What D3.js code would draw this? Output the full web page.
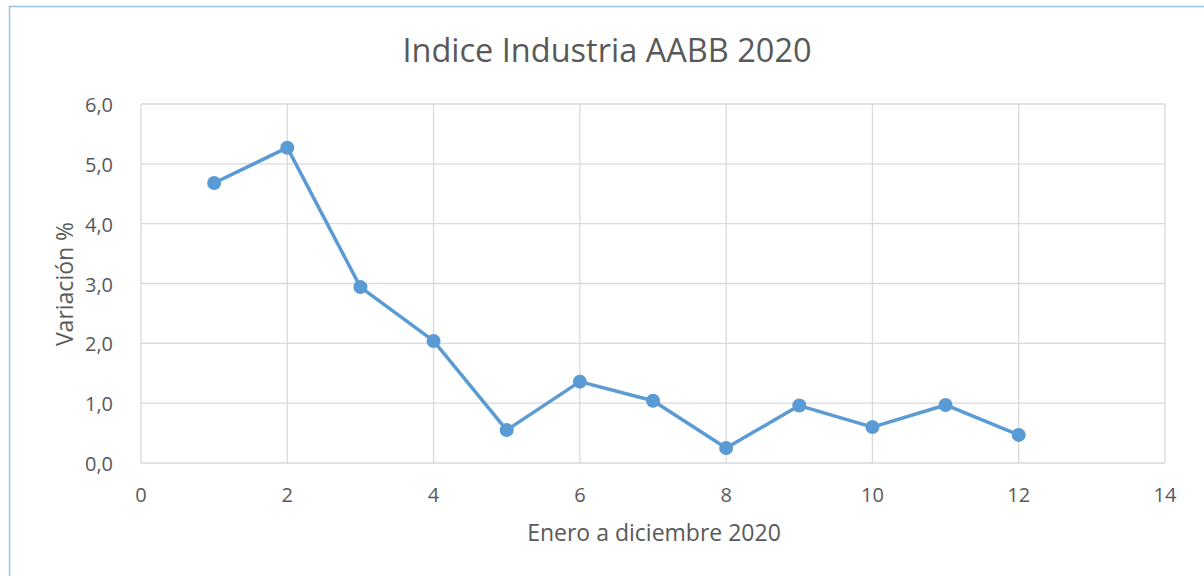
<!DOCTYPE html>
<html>
<head>
<meta charset="utf-8">
<script src="https://cdn.jsdelivr.net/npm/d3@7"></script>
<style>
  body { margin: 0; background: #fff; }
  text { font-family: "Open Sans", "Noto Sans", sans-serif; fill: #595959; }
</style>
</head>
<body>
<div id="chart"></div>
<script>
// Months (1 = enero ... 12 = diciembre) and variation values
const months = [1, 2, 3, 4, 5, 6, 7, 8, 9, 10, 11, 12];
const variacion = [4.68, 5.27, 2.94, 2.04, 0.55, 1.36, 1.04, 0.25, 0.96, 0.60, 0.97, 0.47];
const xTicks = [0, 2, 4, 6, 8, 10, 12, 14];
const yTicks = [0, 1, 2, 3, 4, 5, 6];

const width = 1204, height = 576;
const margin = { left: 141, right: 39, top: 104, bottom: 113 };

const svg = d3.select('#chart').append('svg')
  .attr('width', width)
  .attr('height', height);

// Chart frame
svg.append('rect')
  .attr('x', 9.5).attr('y', 6.5)
  .attr('width', width + 20).attr('height', height + 20)
  .attr('fill', 'none')
  .attr('stroke', '#9dc3e6')
  .attr('stroke-width', 1.5);

const x = d3.scaleLinear().domain([0, 14]).range([margin.left, width - margin.right]);
const y = d3.scaleLinear().domain([0, 6]).range([height - margin.bottom, margin.top]);

const fmt = d => d3.format('.1f')(d).replace('.', ',');

// Gridlines
svg.append('g')
  .selectAll('line')
  .data(xTicks)
  .enter().append('line')
  .attr('x1', d => x(d)).attr('x2', d => x(d))
  .attr('y1', y(0)).attr('y2', y(6))
  .attr('stroke', '#d9d9d9')
  .attr('stroke-width', 1.3);

svg.append('g')
  .selectAll('line')
  .data(yTicks)
  .enter().append('line')
  .attr('x1', x(0)).attr('x2', x(14))
  .attr('y1', d => y(d)).attr('y2', d => y(d))
  .attr('stroke', '#d9d9d9')
  .attr('stroke-width', 1.3);

// Tick labels
svg.append('g')
  .selectAll('text')
  .data(xTicks)
  .enter().append('text')
  .attr('x', d => x(d))
  .attr('y', y(0) + 39)
  .attr('text-anchor', 'middle')
  .attr('font-size', 20)
  .text(d => d);

svg.append('g')
  .selectAll('text')
  .data(yTicks)
  .enter().append('text')
  .attr('x', x(0) - 28)
  .attr('y', d => y(d) + 8)
  .attr('text-anchor', 'end')
  .attr('font-size', 20)
  .text(fmt);

// Line + markers
const pts = months.map((m, i) => [m, variacion[i]]);
svg.append('path')
  .datum(pts)
  .attr('fill', 'none')
  .attr('stroke', '#5b9bd5')
  .attr('stroke-width', 3.5)
  .attr('stroke-linejoin', 'round')
  .attr('d', d3.line().x(d => x(d[0])).y(d => y(d[1])));

svg.append('g')
  .selectAll('circle')
  .data(pts)
  .enter().append('circle')
  .attr('cx', d => x(d[0]))
  .attr('cy', d => y(d[1]))
  .attr('r', 7)
  .attr('fill', '#5b9bd5');

// Titles
svg.append('text')
  .attr('x', 607).attr('y', 62)
  .attr('text-anchor', 'middle')
  .attr('font-size', 32.5)
  .text('Indice Industria AABB 2020');

svg.append('text')
  .attr('x', 654).attr('y', 541)
  .attr('text-anchor', 'middle')
  .attr('font-size', 23)
  .text('Enero a diciembre 2020');

svg.append('text')
  .attr('transform', 'translate(73,284) rotate(-90)')
  .attr('text-anchor', 'middle')
  .attr('font-size', 23)
  .text('Variación %');
</script>
</body>
</html>
